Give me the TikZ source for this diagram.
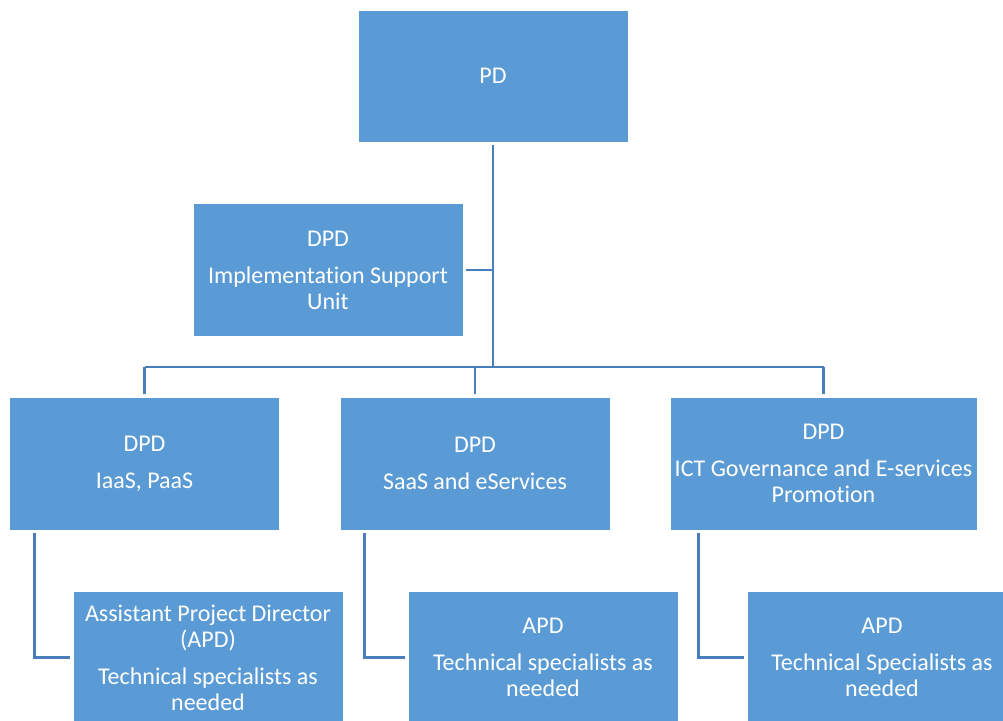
\documentclass[tikz,border=0pt]{standalone}
\usepackage{fontspec}
\setmainfont{Carlito}[Ligatures=NoCommon]
\definecolor{boxblue}{HTML}{5B9BD5}
\definecolor{linkblue}{HTML}{4A7EBB}
\begin{document}
\begin{tikzpicture}[x=1pt,y=-1pt,
  unit/.style={fill=boxblue, draw=white, line width=0.6pt, inner sep=0pt,
    minimum height=133pt, text=white, align=center,
    font=\fontsize{24}{26}\selectfont},
  link/.style={draw=linkblue, line width=2.6pt, line cap=butt}]
\useasboundingbox (0,0) rectangle (1003,720);
\begin{scope}
\clip (0,0) rectangle (1003,720);

% boxes
\node[unit, minimum width=270pt, minimum height=132pt] (pd) at (493,76) {PD};
\node[unit, minimum width=270pt] (isu) at (328,270)
  {DPD\\[11pt]Implementation Support\\Unit};
\node[unit, minimum width=270pt] (iaas) at (144.5,463.5)
  {DPD\\[11pt]IaaS, PaaS};
\node[unit, minimum width=270pt] (saas) at (475,463.5)
  {DPD\\[11pt]SaaS and eServices};
\node[unit, minimum width=307pt] (ict) at (823.5,463.5)
  {DPD\\[11pt]ICT Governance and E-services\\Promotion};
\node[unit, minimum width=270pt] (apd1) at (208,657.5)
  {Assistant Project Director\\(APD)\\[11pt]Technical specialists as\\needed};
\node[unit, minimum width=270pt] (apd2) at (543,657.5)
  {APD\\[11pt]Technical specialists as\\needed};
\node[unit, minimum width=270pt] (apd3) at (882,657.5)
  {APD\\[11pt]Technical Specialists as\\needed};

% junction points of the main bus
\coordinate (bus) at (493,367);
\coordinate (busL) at (144.5,367);
\coordinate (busR) at (823.5,367);

% connectors
\draw[link, shorten <=3pt] (pd.south) -- (bus);
\draw[link, shorten <=3pt] (isu.east) -- (isu.east -| bus);
\draw[link] (busL) -- (busR);
\draw[link, shorten >=3pt] (busL) -- (iaas.north);
\draw[link, shorten >=3pt] (saas.north |- bus) -- (saas.north);
\draw[link, shorten >=3pt] (busR) -- (ict.north);

\draw[link, shorten <=3pt, shorten >=3pt]
  ([xshift=25pt]iaas.south west) |- (apd1.west);
\draw[link, shorten <=3pt, shorten >=3pt]
  ([xshift=25pt]saas.south west) |- (apd2.west);
\draw[link, shorten <=3pt, shorten >=3pt]
  ([xshift=29pt]ict.south west) |- (apd3.west);
\end{scope}
\end{tikzpicture}
\end{document}
